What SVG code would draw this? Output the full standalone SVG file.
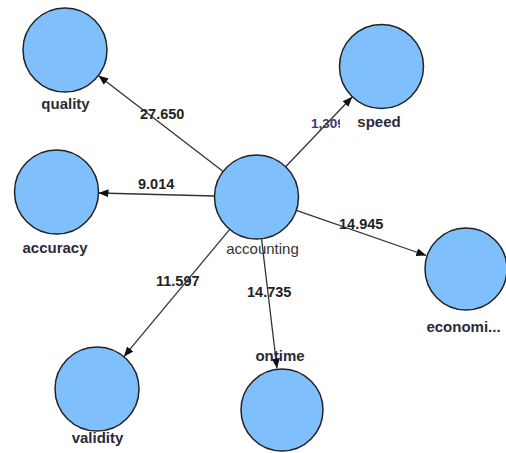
<svg xmlns="http://www.w3.org/2000/svg" width="506" height="453" viewBox="0 0 506 453">
<style>
.node{fill:#7fbffb;stroke:#222;stroke-width:1.5}
.nl{font-family:"Liberation Sans",Arial,sans-serif;font-size:15px;font-weight:bold;fill:#2a2a38;text-anchor:middle}
.nlr{font-family:"Liberation Sans",Arial,sans-serif;font-size:15px;fill:#333;text-anchor:middle}
.el{font-family:"Liberation Sans",Arial,sans-serif;font-size:14.5px;font-weight:bold;fill:#222}
.edge{stroke:#333;stroke-width:1.3;fill:none;marker-end:url(#arr)}
</style>
<defs>
<marker id="arr" markerUnits="userSpaceOnUse" markerWidth="11" markerHeight="9" refX="10" refY="4" orient="auto">
<path d="M0,0 L10,4 L0,8 z" fill="#111"/>
</marker>
<clipPath id="clip1309"><rect x="300" y="110" width="40" height="25"/></clipPath>
</defs>
<rect width="506" height="453" fill="#fff"/>
<g id="node-quality"><circle class="node" cx="65" cy="50" r="42"/><text class="nl" x="65.5" y="109">quality</text></g>
<g id="node-accuracy"><circle class="node" cx="56.5" cy="192" r="42"/><text class="nl" x="55" y="253">accuracy</text></g>
<g id="node-speed"><circle class="node" cx="381.5" cy="66.5" r="42"/><text class="nl" x="379" y="127">speed</text></g>
<g id="node-accounting"><circle class="node" cx="256.5" cy="197" r="42"/><text class="nlr" x="262.5" y="254">accounting</text></g>
<g id="node-economi"><circle class="node" cx="466" cy="269" r="41"/><text class="nl" x="463.5" y="332">economi...</text></g>
<g id="node-ontime"><circle class="node" cx="282" cy="410" r="41"/><text class="nl" x="280" y="361">ontime</text></g>
<g id="node-validity"><circle class="node" cx="97" cy="389" r="42"/><text class="nl" x="97.5" y="443">validity</text></g>
<g id="connectors">
<text class="el" x="140" y="119">27.650</text>
<text class="el" x="138" y="189">9.014</text>
<text class="el" x="311" y="128" clip-path="url(#clip1309)" style="font-size:13.5px;fill:#3a3a6e">1,309</text>
<text class="el" x="339" y="229">14.945</text>
<text class="el" x="247" y="297">14.735</text>
<text class="el" x="156" y="286">11.597</text>
<line class="edge" x1="223.2" y1="171.4" x2="98.3" y2="75.6"/>
<line class="edge" x1="214.5" y1="196" x2="98.5" y2="193"/>
<line class="edge" x1="285.6" y1="166.7" x2="352.4" y2="96.8"/>
<line class="edge" x1="296.3" y1="210.3" x2="426.3" y2="255.5"/>
<line class="edge" x1="261.5" y1="238.7" x2="277" y2="368.5"/>
<line class="edge" x1="229.7" y1="229.3" x2="123.8" y2="356.7"/>
</g>
</svg>
